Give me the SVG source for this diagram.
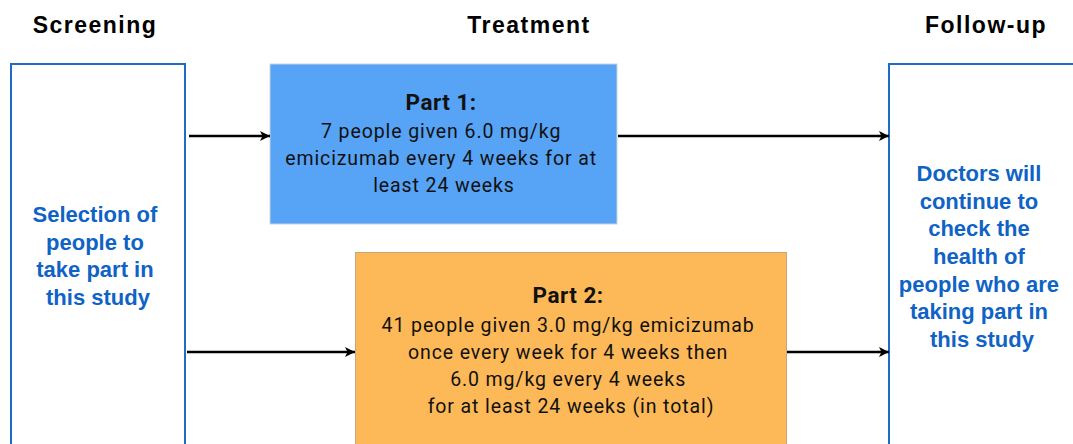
<svg xmlns="http://www.w3.org/2000/svg" width="1073" height="444" viewBox="0 0 1073 444">
<defs>
<marker id="arr" viewBox="0 0 10 10" refX="10" refY="5" markerWidth="4" markerHeight="4" orient="auto" markerUnits="strokeWidth">
<path d="M0,0 L10,5 L0,10 L2.5,5 z" fill="#000"/>
</marker>
<style>
.hdr{font-family:"Liberation Sans",Arial,sans-serif;font-weight:bold;font-size:23px;letter-spacing:1.5px;fill:#000;text-anchor:middle}
.side{fill:#fff;stroke:#1f6dc2;stroke-width:2}
.sidetxt{font-family:"Liberation Sans",Arial,sans-serif;font-weight:bold;font-size:22px;fill:#0f63c6;text-anchor:middle}
.body{font-family:Roboto,"Liberation Sans",sans-serif;font-size:19.5px;letter-spacing:0.9px;fill:#111;text-anchor:middle}
.bold{font-weight:bold;font-size:22.5px;letter-spacing:0.5px}
.conn{stroke:#000;stroke-width:2.5;fill:none;marker-end:url(#arr)}
</style>
</defs>
<rect width="1073" height="444" fill="#fff"/>
<text class="hdr" x="95" y="33">Screening</text>
<text class="hdr" x="529" y="33">Treatment</text>
<text class="hdr" x="986" y="33">Follow-up</text>
<g id="screening">
<rect class="side" x="11" y="64" width="174" height="390"/>
<text class="sidetxt">
<tspan x="98" y="222">Selection of</tspan>
<tspan x="98" y="250">people to</tspan>
<tspan x="98" y="277">take part in</tspan>
<tspan x="98" y="305">this study</tspan>
</text>
</g>
<g id="part1">
<rect x="270" y="64" width="347" height="160" fill="#57a3f5" stroke="#c9d3dd" stroke-width="1"/>
<text class="body">
<tspan class="bold" x="444" y="110">Part 1:</tspan>
<tspan x="444" y="138">7 people given 6.0 mg/kg</tspan>
<tspan x="444" y="165">emicizumab every 4 weeks for at</tspan>
<tspan x="444" y="192">least 24 weeks</tspan>
</text>
</g>
<g id="part2">
<rect x="355.5" y="252.5" width="431" height="200" fill="#fdb957" stroke="#c8a67a" stroke-width="1"/>
<text class="body">
<tspan class="bold" x="571" y="303">Part 2:</tspan>
<tspan x="571" y="332">41 people given 3.0 mg/kg emicizumab</tspan>
<tspan x="571" y="359">once every week for 4 weeks then</tspan>
<tspan x="571" y="386">6.0 mg/kg every 4 weeks</tspan>
<tspan x="571" y="413">for at least 24 weeks (in total)</tspan>
</text>
</g>
<g id="followup">
<rect class="side" x="889" y="64" width="200" height="390"/>
<text class="sidetxt">
<tspan x="982" y="181">Doctors will</tspan>
<tspan x="982" y="209">continue to</tspan>
<tspan x="982" y="236">check the</tspan>
<tspan x="982" y="264">health of</tspan>
<tspan x="982" y="292">people who are</tspan>
<tspan x="982" y="319">taking part in</tspan>
<tspan x="982" y="347">this study</tspan>
</text>
</g>
<g id="connectors">
<line class="conn" x1="189" y1="136" x2="270" y2="136"/>
<line class="conn" x1="618" y1="136" x2="889" y2="136"/>
<line class="conn" x1="187" y1="352" x2="355" y2="352"/>
<line class="conn" x1="787" y1="352" x2="889" y2="352"/>
</g>
</svg>
